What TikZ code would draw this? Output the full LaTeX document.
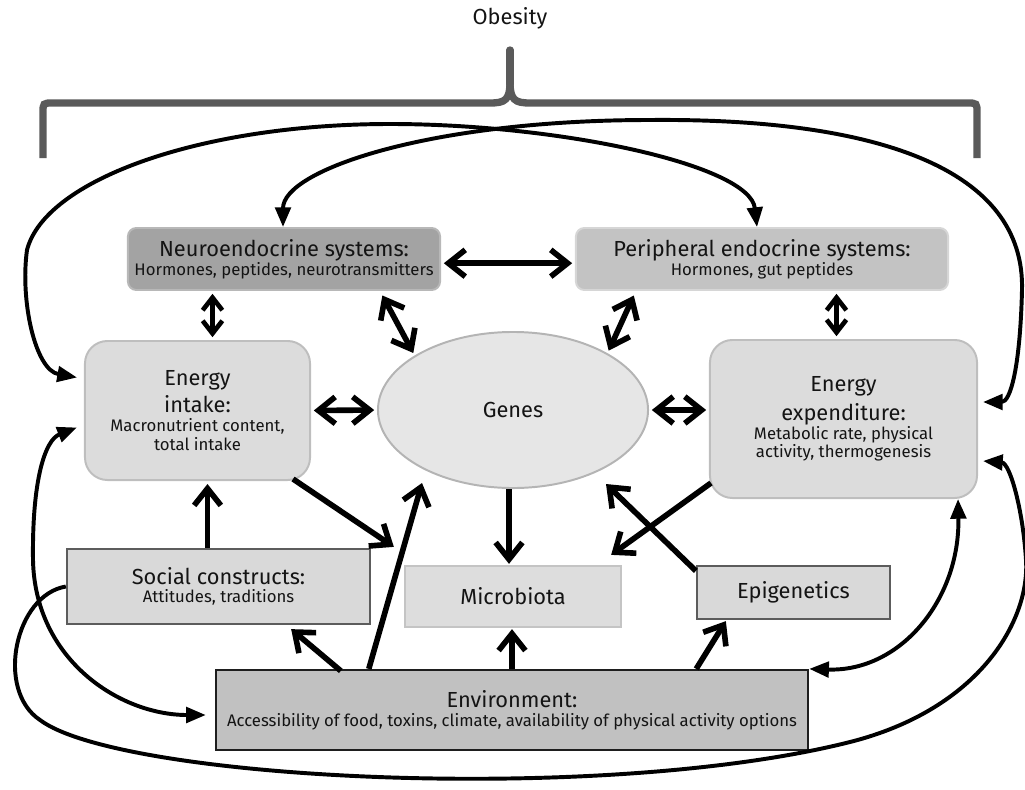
\documentclass[tikz,border=0pt]{standalone}
\usepackage{fontspec}
\setmainfont{Fira Sans}
\usetikzlibrary{shapes.geometric, arrows.meta, positioning, calc}

\definecolor{neurofill}{RGB}{163,163,163}
\definecolor{neuroline}{RGB}{184,184,184}
\definecolor{periphfill}{RGB}{195,195,195}
\definecolor{periphline}{RGB}{214,214,214}
\definecolor{energyfill}{RGB}{220,220,220}
\definecolor{energyline}{RGB}{190,190,190}
\definecolor{genesfill}{RGB}{230,230,230}
\definecolor{genesline}{RGB}{180,180,180}
\definecolor{boxfill}{RGB}{217,217,217}
\definecolor{boxline}{RGB}{92,92,92}
\definecolor{microfill}{RGB}{221,221,221}
\definecolor{microline}{RGB}{196,196,196}
\definecolor{envfill}{RGB}{193,193,193}
\definecolor{envline}{RGB}{30,30,30}
\definecolor{bracegray}{RGB}{90,90,90}
\definecolor{txt}{RGB}{20,20,20}

\newcommand{\hdfont}{\fontsize{15.5}{17}\selectfont}
\newcommand{\smfont}{\fontsize{11.9}{13.2}\selectfont}

\begin{document}
\begin{tikzpicture}[x=0.025cm, y=-0.025cm,
    sys/.style={rectangle, rounded corners=6pt, line width=1.4pt, minimum height=1.55cm, align=center, text=txt, font=\smfont},
    energy/.style={rectangle, rounded corners=16pt, draw=energyline, fill=energyfill, line width=1.4pt, align=center, text=txt, font=\smfont},
    plain/.style={rectangle, line width=1.6pt, align=center, text=txt, font=\smfont},
    dblarr/.style={{Straight Barb[length=12pt, width=19pt]}-{Straight Barb[length=12pt, width=19pt]}, line width=4pt, shorten >=2pt, shorten <=2pt},
    dblsm/.style={{Straight Barb[length=9pt, width=14pt]}-{Straight Barb[length=9pt, width=14pt]}, line width=3.3pt, shorten >=2pt, shorten <=2pt},
    arr/.style={-{Straight Barb[length=12pt, width=19pt]}, line width=4pt},
    feed/.style={-{Triangle[length=14pt, width=11pt]}, line width=2.8pt},
    feedboth/.style={{Triangle[length=14pt, width=11pt]}-{Triangle[length=14pt, width=11pt]}, line width=2.8pt},
    brace/.style={draw=bracegray, line width=5.2pt}
  ]
  \useasboundingbox (0,0) rectangle (1025,789);

  % top label and brace
  \node[font=\hdfont, text=txt] (obesity) at (510,18) {Obesity};
  \draw[brace] (43,158) -- (43,113) .. controls (43,103) .. (53,103) -- (490,103)
    .. controls (505,103) and (510,100) .. (510,82);
  \draw[brace] (977,158) -- (977,113) .. controls (977,103) .. (967,103) -- (530,103)
    .. controls (515,103) and (510,100) .. (510,82);
  \draw[brace, line cap=round] (510,84) -- (510,50);

  % boxes
  \node[sys, fill=neurofill, draw=neuroline, minimum width=7.8cm] (neuro) at (284,259)
    {{\hdfont Neuroendocrine systems:}\\Hormones, peptides, neurotransmitters};
  \node[sys, fill=periphfill, draw=periphline, minimum width=9.3cm] (peripheral) at (762,259)
    {{\hdfont Peripheral endocrine systems:}\\Hormones, gut peptides};
  \node[energy, minimum width=5.625cm, minimum height=3.475cm] (intake) at (197.5,410.5)
    {{\hdfont Energy}\\[3pt]{\hdfont intake:}\\Macronutrient content,\\total intake};
  \node[ellipse, draw=genesline, fill=genesfill, line width=1.4pt, minimum width=6.75cm, minimum height=3.9cm, text=txt, font=\hdfont] (genes) at (513,410) {Genes};
  \node[energy, minimum width=6.675cm, minimum height=3.95cm] (exp) at (843.5,419)
    {{\hdfont Energy}\\[4pt]{\hdfont expenditure:}\\Metabolic rate, physical\\activity, thermogenesis};
  \node[plain, fill=boxfill, draw=boxline, minimum width=7.575cm, minimum height=1.875cm] (social) at (218.5,586.5)
    {{\hdfont Social constructs:}\\Attitudes, traditions};
  \node[plain, fill=microfill, draw=microline, minimum width=5.4cm, minimum height=1.525cm, font=\hdfont] (micro) at (513,596.5) {Microbiota};
  \node[plain, fill=boxfill, draw=boxline, minimum width=4.825cm, minimum height=1.325cm, font=\hdfont] (epi) at (793.5,592.5) {Epigenetics};
  \node[plain, fill=envfill, draw=envline, minimum width=14.8cm, minimum height=2cm] (env) at (512,710)
    {{\hdfont Environment:}\\Accessibility of food, toxins, climate, availability of physical activity options};

  % two-way links
  \draw[dblarr] ([yshift=-3pt]neuro.east) -- ([yshift=-3pt]peripheral.west);
  \draw[dblsm] ($(intake.north)+(15,0)$) -- ($(intake.north |- neuro.south)+(15,0)$);
  \draw[dblarr] ($(neuro.south east)+(-60,2)$) -- (genes.151);
  \draw[dblarr] ($(peripheral.south west)+(60,2)$) -- (genes.31);
  \draw[dblsm] ($(exp.north)+(-7,0)$) -- ($(exp.north |- peripheral.south)+(-7,0)$);
  \draw[dblarr] (intake.east) -- (genes.west);
  \draw[dblarr] (genes.east) -- (genes.east -| exp.west);

  % one-way links
  \draw[arr] ($(intake.south east)+(-18,-2)$) -- ($(micro.north west)+(-10,-18)$);
  \draw[arr] ($(genes.south)+(-4,0)$) -- ($(genes.south |- micro.north)+(-4,-1)$);
  \draw[arr] ($(exp.south west)+(2,-16)$) -- ($(micro.north east)+(-11,-10)$);
  \draw[arr] ($(epi.north west)+(0,6)$) -- ($(genes.center)+(93,74)$);
  \draw[arr] ($(social.north)+(-11,0)$) -- ($(social.north |- intake.south)+(-11,3)$);
  \draw[arr] ($(env.north west)+(126,2)$) -- ($(social.south east)+(-80,4)$);
  \draw[arr] ($(env.north west)+(154,0)$) -- ($(genes.center)+(-91,73)$);
  \draw[arr] (env.north) -- ($(env.north |- micro.south)+(0,1)$);
  \draw[arr] ($(env.north east)+(-113,0)$) -- ($(epi.south west)+(30,1)$);

  % feedback curves
  \draw[feedboth] ($(intake.west)+(-7,-33)$) .. controls (35,370) and (20,300) .. (27,250)
    .. controls (45,180) and (200,124) .. (390,124)
    .. controls (560,124) and (750,165) .. ($(peripheral.north)+(-5,0)$);
  \draw[feedboth] ($(neuro.north)+(-1,0)$) .. controls (283,170) and (430,120) .. (650,120)
    .. controls (880,118) and (1025,170) .. (1022,290)
    .. controls (1020,370) and (1010,402) .. ($(exp.east)+(5,-17)$);
  \draw[feedboth] ($(intake.west)+(-7,17)$) .. controls (45,440) and (32,480) .. (33,560)
    .. controls (35,660) and (120,715) .. ($(env.west)+(-9,5)$);
  \draw[feed] (social.west) .. controls (15,595) and (-5,690) .. (40,720)
    .. controls (120,780) and (600,805) .. (850,742)
    .. controls (980,709) and (1030,620) .. (1026,560)
    .. controls (1023,510) and (1010,463) .. ($(exp.east)+(5,42)$);
  \draw[feedboth] ($(exp.south east)+(-20,0)$) .. controls (960,600) and (900,672) .. (env.north east);
\end{tikzpicture}
\end{document}
